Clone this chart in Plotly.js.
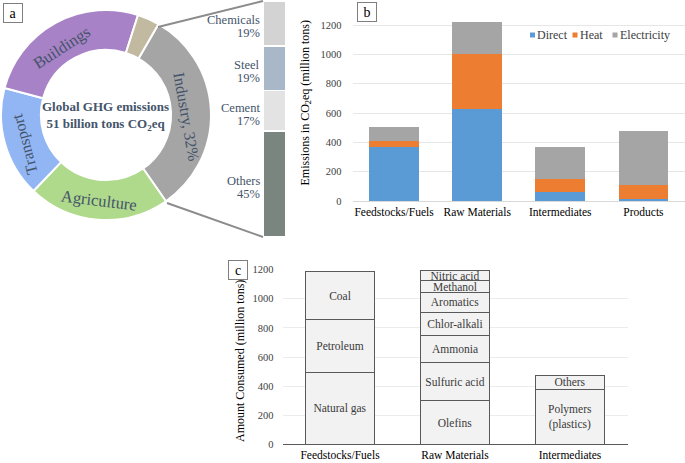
<!DOCTYPE html>
<html><head><meta charset="utf-8">
<script src="https://cdn.plot.ly/plotly-3.0.1.min.js"></script>
<style>html,body{margin:0;padding:0;background:#fff}#chart{width:685px;height:463px}</style>
</head><body><div id="chart"></div>
<script>
// ---- Panel a: global GHG emissions by sector ----
var sectorLabels = ["Industry, 32%", "Agriculture", "Transport", "Buildings", "Other"];
var sectorValues = [32, 21.8, 17, 25.8, 3.4];
var sectorColors = ["#a5a5a5", "#afd98b", "#92b6f3", "#a882c6", "#c2b9a1"];
var industryLabels = ["Chemicals", "Steel", "Cement", "Others"];
var industryValues = [19, 19, 17, 45];
var industryColors = ["#d3d3d3", "#a8b8c9", "#e3e3e3", "#7b8580"];

// ---- Panel b: emissions by stage ----
var stages = ["Feedstocks/Fuels", "Raw Materials", "Intermediates", "Products"];
var directVals = [370, 629, 61, 16];
var heatVals = [41, 375, 89, 91];
var elecVals = [93, 216, 220, 372];

// ---- Panel c: amount consumed ----
var consCategories = ["Feedstocks/Fuels", "Raw Materials", "Intermediates"];
var consItems = [
  ["Feedstocks/Fuels", "Natural gas", 495],
  ["Feedstocks/Fuels", "Petroleum", 364],
  ["Feedstocks/Fuels", "Coal", 327],
  ["Raw Materials", "Olefins", 298],
  ["Raw Materials", "Sulfuric acid", 266],
  ["Raw Materials", "Ammonia", 182],
  ["Raw Materials", "Chlor-alkali", 159],
  ["Raw Materials", "Aromatics", 140],
  ["Raw Materials", "Methanol", 79],
  ["Raw Materials", "Nitric acid", 72],
  ["Intermediates", "Polymers<br>(plastics)", 378],
  ["Intermediates", "Others", 96]
];

var W = 685, H = 463;
function px(x){ return x / W; }
function py(y){ return 1 - y / H; }
var SERIF = '"Liberation Serif", "Times New Roman", serif';
var SLATE = "#44546a";
function F(size, color, weight){ return {family: SERIF, size: size, color: color || "#000", weight: weight || "normal"}; }

var traces = [];
// donut
traces.push({
  type: "pie", labels: sectorLabels, values: sectorValues, sort: false,
  direction: "clockwise", rotation: 30, hole: 0.62,
  marker: {colors: sectorColors, line: {color: "#ffffff", width: 2}},
  textinfo: "none", hoverinfo: "label+percent", showlegend: false,
  domain: {x: [px(1), px(211)], y: [py(221), py(9)]}
});
// industry breakdown bar (stacked from bottom: Others, Cement, Steel, Chemicals)
for (var i = industryLabels.length - 1; i >= 0; i--) {
  traces.push({
    type: "bar", x: [0], y: [industryValues[i]], name: industryLabels[i],
    marker: {color: industryColors[i], line: {color: "#ffffff", width: 1.5}},
    width: 1, xaxis: "x3", yaxis: "y3", showlegend: false, hoverinfo: "name+y"
  });
}
// panel b
var bSeries = [["Direct", directVals, "#5b9bd5"], ["Heat", heatVals, "#ed7d31"], ["Electricity", elecVals, "#a5a5a5"]];
bSeries.forEach(function(s){
  traces.push({type: "bar", x: stages, y: s[1], name: s[0], marker: {color: s[2]},
    xaxis: "x", yaxis: "y", showlegend: false});
});
// panel c
consItems.forEach(function(it){
  traces.push({type: "bar", x: [it[0]], y: [it[2]], name: it[1].replace("<br>", " "), text: [it[1]],
    textposition: "inside", insidetextanchor: "middle", constraintext: "none", cliponaxis: false,
    textfont: F(11.5, "#3a3a3a"),
    marker: {color: "#f2f2f2", line: {color: "#595959", width: 1}},
    xaxis: "x2", yaxis: "y2", showlegend: false, hoverinfo: "name+y"});
});

var annotations = [];
var shapes = [];
function ann(o){ o.showarrow = false; if (!o.xanchor) o.xanchor = "center"; if (!o.yanchor) o.yanchor = "middle";
  if (!o.xref) o.xref = "paper"; if (!o.yref) o.yref = "paper"; annotations.push(o); }
function boxLabel(t, cx, cy){
  ann({text: t, x: px(cx), y: py(cy), font: F(14), bordercolor: "#7f7f7f", borderwidth: 1,
    bgcolor: "#fff", width: 16, height: 16, borderpad: 1});
}
boxLabel("a", 13, 13);
boxLabel("b", 367, 12.5);
boxLabel("c", 238, 269.5);

// donut center text
ann({text: "<b>Global GHG emissions<br>51 billion tons CO<sub>2</sub>eq</b>", x: px(105), y: py(116), font: F(13, SLATE)});
// sector labels
var sectorLabelPos = [[186, 117, 80, 16], [99, 200, 7, 16.5], [25, 144, -105, 16], [62, 48, -33, 16.5]];
for (var k = 0; k < 4; k++) {
  var p = sectorLabelPos[k];
  ann({text: sectorLabels[k], x: px(p[0]), y: py(p[1]), textangle: p[2], font: F(p[3], SLATE)});
}
// industry breakdown labels
var cum = 100;
for (var j = 0; j < industryLabels.length; j++) {
  var mid = cum - industryValues[j] / 2;
  cum -= industryValues[j];
  ann({text: industryLabels[j], yref: "y3", x: px(262), y: mid, yshift: 3, xanchor: "right", font: F(12.5, SLATE)});
  ann({text: industryValues[j] + "%", yref: "y3", x: px(262), y: mid, yshift: -10, xanchor: "right", font: F(12.5, SLATE)});
}
// connector lines
shapes.push({type: "line", xref: "paper", yref: "paper", x0: px(158), y0: py(27), x1: px(263), y1: py(1),
  line: {color: "#8c8c8c", width: 2}});
shapes.push({type: "line", xref: "paper", yref: "paper", x0: px(167), y0: py(203), x1: px(263), y1: py(237),
  line: {color: "#8c8c8c", width: 2}});

// panel b manual legend
var legX = [530, 572.5, 612.5];
bSeries.forEach(function(s, i){
  shapes.push({type: "rect", xref: "paper", yref: "paper", x0: px(legX[i]), x1: px(legX[i] + 5),
    y0: py(37.5), y1: py(32.5), fillcolor: s[2], line: {width: 0}});
  ann({text: s[0], x: px(legX[i] + 5), y: py(35), xanchor: "left", font: F(12, "#404040")});
});
// panel c axis title
ann({text: "Amount Consumed (million tons)", x: px(240), y: py(361), textangle: -90, font: F(12)});

var layout = {
  width: W, height: H, margin: {l: 0, r: 0, t: 0, b: 0},
  paper_bgcolor: "#fff", plot_bgcolor: "rgba(0,0,0,0)",
  font: F(12), barmode: "stack", bargap: 0.4, showlegend: false,
  xaxis: {domain: [px(352.5), px(685)], anchor: "y", type: "category", showgrid: false,
    showline: true, linecolor: "#d9d9d9", ticks: "", tickfont: F(11.5), fixedrange: true},
  yaxis: {domain: [py(201), py(4.5)], anchor: "x", range: [0, 1340], tickvals: [0, 200, 400, 600, 800, 1000, 1200],
    gridcolor: "#e6e6e6", zeroline: false, showline: false, ticks: "", tickfont: F(10.5, "#404040"), ticklabelstandoff: 10,
    title: {text: "Emissions in CO<sub>2</sub>eq (million tons)", font: F(12), standoff: 8}},
  xaxis2: {domain: [px(282.5), px(627.5)], anchor: "y2", type: "category", categoryarray: consCategories,
    categoryorder: "array", showgrid: false, showline: true, linecolor: "#595959", ticks: "", tickfont: F(11.5)},
  yaxis2: {domain: [py(444.3), py(269.7)], anchor: "x2", range: [0, 1200], tickvals: [0, 200, 400, 600, 800, 1000, 1200],
    gridcolor: "#ececec", zeroline: false, showline: false, ticks: "", tickfont: F(10.5, "#404040"), ticklabelstandoff: 8},
  xaxis3: {domain: [px(263), px(286)], anchor: "y3", range: [-0.5, 0.5], visible: false, fixedrange: true},
  yaxis3: {domain: [py(237), py(1)], anchor: "x3", range: [0, 100], visible: false, fixedrange: true},
  annotations: annotations, shapes: shapes
};
Plotly.newPlot("chart", traces, layout, {displayModeBar: false, staticPlot: true});
</script></body></html>
